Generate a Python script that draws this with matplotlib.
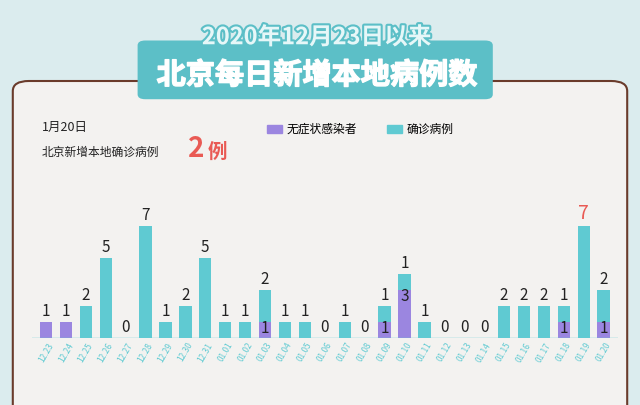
import numpy as np
import matplotlib
matplotlib.use("Agg")
import matplotlib.pyplot as plt
import matplotlib.patheffects as pe
from matplotlib.patches import FancyBboxPatch, Patch

plt.rcParams["font.family"] = "Noto Sans CJK SC"

dates = ["12.23", "12.24", "12.25", "12.26", "12.27", "12.28", "12.29", "12.30", "12.31",
         "01.01", "01.02", "01.03", "01.04", "01.05", "01.06", "01.07", "01.08", "01.09",
         "01.10", "01.11", "01.12", "01.13", "01.14", "01.15", "01.16", "01.17", "01.18",
         "01.19", "01.20"]
asym = [1, 1, 0, 0, 0, 0, 0, 0, 0, 0, 0, 1, 0, 0, 0, 0, 0, 1, 3, 0, 0, 0, 0, 0, 0, 0, 1, 0, 1]
conf = [0, 0, 2, 5, 0, 7, 1, 2, 5, 1, 1, 2, 1, 1, 0, 1, 0, 1, 1, 1, 0, 0, 0, 2, 2, 2, 1, 7, 2]

CYAN = "#5fcad2"
PURPLE = "#9b86e0"

fig = plt.figure(figsize=(6.4, 4.05), dpi=100)
fig.patch.set_facecolor("#dbecee")

# panel
panel = FancyBboxPatch((0.02, -0.05), 0.96, 0.85, boxstyle="round,pad=0,rounding_size=0.025",
                       transform=fig.transFigure, fc="#f3f2f0", ec="#6a3b2b", lw=1.5, zorder=-5)
fig.patches.append(panel)
# header box
hdr = FancyBboxPatch((0.215, 0.755), 0.555, 0.145, boxstyle="round,pad=0,rounding_size=0.012",
                     transform=fig.transFigure, fc="#5cbfc7", ec="none", zorder=5)
fig.patches.append(hdr)
fig.text(0.495, 0.908, "2020年12月23日以来", ha="center", va="center", fontsize=17,
         color="#e6f7f8", fontweight="bold", zorder=6,
         path_effects=[pe.withStroke(linewidth=3, foreground="#5cbfc7")])
fig.text(0.495, 0.815, "北京每日新增本地病例数", ha="center", va="center", fontsize=21,
         color="white", fontweight="bold", zorder=6,
         path_effects=[pe.withStroke(linewidth=1, foreground="white")])

fig.text(0.065, 0.685, "1月20日", fontsize=9, color="#222", va="center")
fig.text(0.065, 0.625, "北京新增本地确诊病例", fontsize=8.5, color="#222", va="center")
fig.text(0.293, 0.632, "2", fontsize=20, color="#e95a54", va="center", fontweight="bold")
fig.text(0.325, 0.625, "例", fontsize=14, color="#e95a54", va="center", fontweight="bold")

ax = fig.add_axes([0.05, 0.165, 0.915, 0.336], zorder=2)
ax.set_facecolor("none")
x = np.arange(len(dates))
ax.bar(x, asym, width=0.62, color=PURPLE)
ax.bar(x, conf, width=0.62, bottom=asym, color=CYAN)
for i in x:
    a, c = asym[i], conf[i]
    top = a + c
    col = "#e95a54" if dates[i] == "01.19" else "#222"
    fs = 14 if dates[i] == "01.19" else 11
    if c > 0:
        ax.text(i, top + 0.12, str(c), ha="center", va="bottom", fontsize=fs, color=col)
        if a > 0:
            ax.text(i, a + 0.15, str(a), ha="center", va="top", fontsize=11, color="#222")
    else:
        ax.text(i, top + 0.12, str(a), ha="center", va="bottom", fontsize=11, color="#222")
ax.axhline(0, color=CYAN, lw=1)
ax.set_xlim(-0.7, len(dates) - 0.3)
ax.set_ylim(0, 8.5)
ax.set_xticks(x)
ax.set_xticklabels(dates, rotation=60, fontsize=6, color=CYAN)
ax.tick_params(length=0, pad=2)
ax.set_yticks([])
for s in ax.spines.values():
    s.set_visible(False)

handles = [Patch(color=PURPLE, label="无症状感染者"), Patch(color=CYAN, label="确诊病例")]
fig.legend(handles=handles, loc="center left", bbox_to_anchor=(0.4, 0.68), ncol=2,
           frameon=False, fontsize=8.5, handlelength=1.3, handleheight=0.7,
           columnspacing=2.5, handletextpad=0.4)

fig.savefig("out.png", dpi=100, facecolor=fig.get_facecolor())
